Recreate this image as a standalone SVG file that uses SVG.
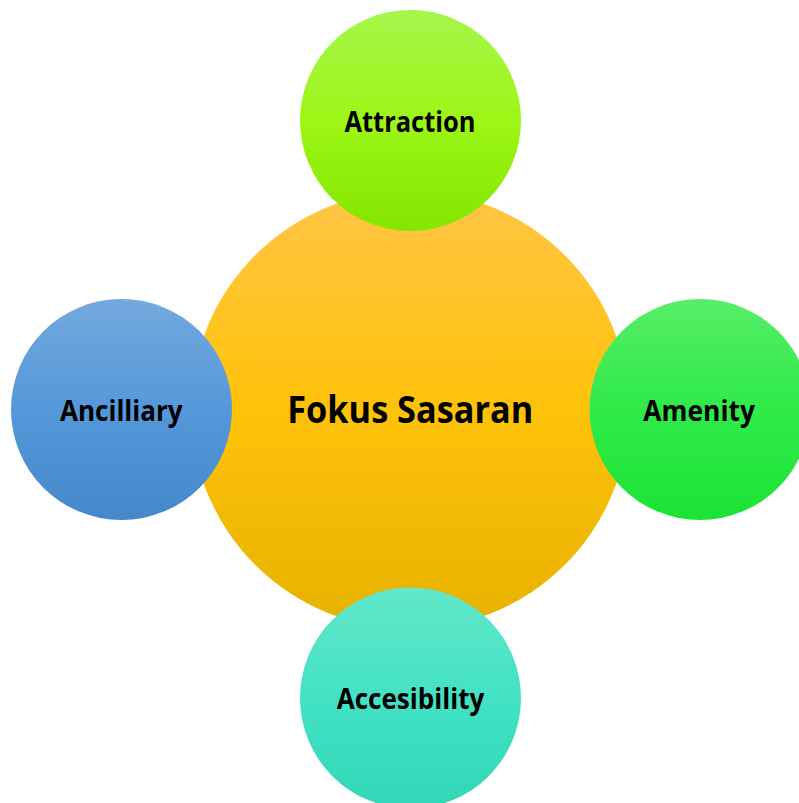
<svg xmlns="http://www.w3.org/2000/svg" width="799" height="803" viewBox="0 0 799 803">
<style>
.lbl{font-family:"Open Sans","Noto Sans","Liberation Sans",sans-serif;font-weight:bold;fill:#000;text-anchor:middle}
.sm{font-size:28px}
.big{font-size:37px}
</style>
<defs>
<linearGradient id="gC" x1="0" y1="0" x2="0" y2="1"><stop offset="0" stop-color="#ffc545"/><stop offset="0.5" stop-color="#ffc20a"/><stop offset="1" stop-color="#e6b200"/></linearGradient>
<linearGradient id="gA" x1="0" y1="0" x2="0" y2="1"><stop offset="0" stop-color="#a6f54c"/><stop offset="0.5" stop-color="#9cf616"/><stop offset="1" stop-color="#84e600"/></linearGradient>
<linearGradient id="gB" x1="0" y1="0" x2="0" y2="1"><stop offset="0" stop-color="#74a9dd"/><stop offset="0.5" stop-color="#5598da"/><stop offset="1" stop-color="#4589cb"/></linearGradient>
<linearGradient id="gM" x1="0" y1="0" x2="0" y2="1"><stop offset="0" stop-color="#58ed68"/><stop offset="0.5" stop-color="#2fea48"/><stop offset="1" stop-color="#1de336"/></linearGradient>
<linearGradient id="gS" x1="0" y1="0" x2="0" y2="1"><stop offset="0" stop-color="#62e7c9"/><stop offset="0.5" stop-color="#43e2c4"/><stop offset="1" stop-color="#31d7b7"/></linearGradient>
</defs>
<g id="connectors"/>
<g id="center">
<circle cx="410" cy="410" r="219" fill="url(#gC)"/>
<text class="lbl big" x="410.3" y="423.3" textLength="246" lengthAdjust="spacingAndGlyphs">Fokus Sasaran</text>
</g>
<g id="attraction">
<circle cx="410.5" cy="120.5" r="110.5" fill="url(#gA)"/>
<text class="lbl sm" x="410" y="131.7" textLength="131" lengthAdjust="spacingAndGlyphs">Attraction</text>
</g>
<g id="ancilliary">
<circle cx="121.5" cy="409.5" r="110.5" fill="url(#gB)"/>
<text class="lbl sm" x="121.3" y="421" textLength="122.7" lengthAdjust="spacingAndGlyphs">Ancilliary</text>
</g>
<g id="amenity">
<circle cx="700" cy="409.5" r="110.5" fill="url(#gM)"/>
<text class="lbl sm" x="699.2" y="421" textLength="111.7" lengthAdjust="spacingAndGlyphs">Amenity</text>
</g>
<g id="accesibility">
<circle cx="410.5" cy="698" r="110.5" fill="url(#gS)"/>
<text class="lbl sm" x="410.5" y="709.3" textLength="147.7" lengthAdjust="spacingAndGlyphs">Accesibility</text>
</g>
</svg>
